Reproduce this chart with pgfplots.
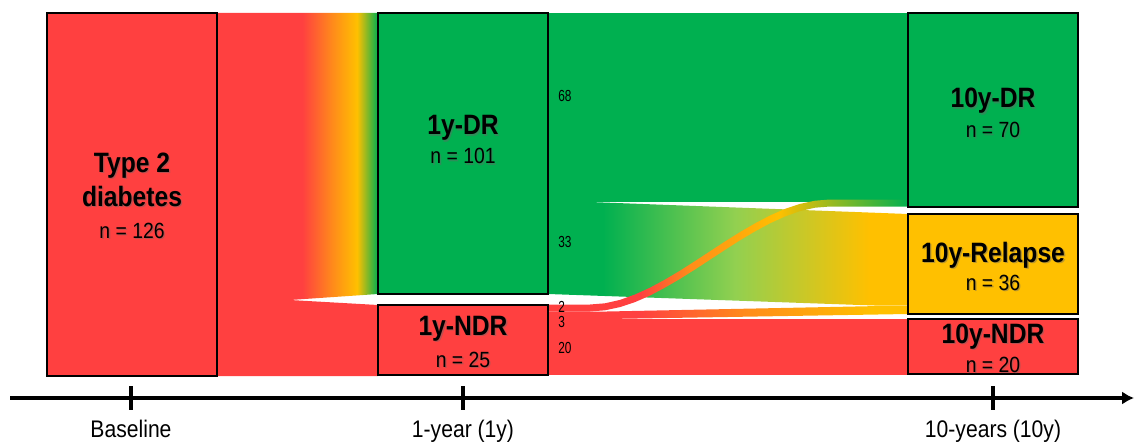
\documentclass[border=0pt]{standalone}
\usepackage{pgfplots}
\pgfplotsset{compat=1.18}
\usetikzlibrary{arrows.meta}
\usepackage{fontspec}
\setmainfont{Liberation Sans}[FakeStretch=0.88]
\newfontfamily\narrowfont{Liberation Sans}[FakeStretch=0.74]

\definecolor{dred}{HTML}{FF4040}
\definecolor{dgreen}{HTML}{00B050}
\definecolor{dyellow}{HTML}{FFC000}
\definecolor{dorange}{HTML}{FF8C1A}
\definecolor{lgreen}{HTML}{92D050}

% shadings: the stretch between 25bp and 75bp covers the path
\pgfdeclarehorizontalshading{basedr}{100bp}{color(0bp)=(dred); color(51.5bp)=(dred); color(61bp)=(dorange); color(68.5bp)=(dyellow); color(75bp)=(dgreen); color(100bp)=(dgreen)}
\pgfdeclarehorizontalshading{drrel}{100bp}{color(0bp)=(dgreen); color(32.6bp)=(dgreen); color(51bp)=(lgreen); color(69.6bp)=(dyellow); color(100bp)=(dyellow)}
\pgfdeclarehorizontalshading{ndrrel}{100bp}{color(0bp)=(dred); color(37.8bp)=(dred); color(52.5bp)=(dorange); color(70bp)=(dyellow); color(100bp)=(dyellow)}
\pgfdeclarehorizontalshading{ndrdr}{100bp}{color(0bp)=(dred); color(37.8bp)=(dred); color(44.7bp)=(dorange); color(57bp)=(dyellow); color(75bp)=(dgreen); color(100bp)=(dgreen)}

\newcommand\boxtext[4]{%
  \node[anchor=base, inner sep=0pt, text=black!60, opacity=0.45, xshift=1pt, yshift=-1pt] at (axis cs:#1,#2) {\fontsize{#3}{#3}\selectfont #4};
  \node[anchor=base, inner sep=0pt] at (axis cs:#1,#2) {\fontsize{#3}{#3}\selectfont #4};}
\newcommand\flowval[2]{%
  \node[anchor=base west, inner sep=0pt] at (axis cs:558,#1) {\narrowfont\fontsize{12}{12}\selectfont #2};}

\begin{document}
\begin{tikzpicture}
\begin{axis}[hide axis, scale only axis, width=850.5pt, height=331.5pt,
  xmin=0, xmax=1134, ymin=0, ymax=442, y dir=reverse, clip=false]

% flows baseline -> 1y
\addplot[draw=none, shade, shading=basedr] coordinates {(217,13) (378,13) (378,294) (290,300) (217,300)} -- cycle;
\addplot[draw=none, fill=dred] coordinates {(217,300) (290,300) (378,305) (378,376) (217,376)} -- cycle;

% flows 1y -> 10y
\addplot[draw=none, fill=dgreen] coordinates {(548,13) (908,13) (908,202) (548,202)} -- cycle;
\addplot[draw=none, shade, shading=drrel] coordinates {(548,202) (590,202) (908,214) (908,305.7) (880,305.7) (548,294)} -- cycle;
\addplot[draw=none, fill=dred] coordinates {(548,319) (908,319) (908,374.5) (548,374.5)} -- cycle;
\addplot[draw=none, shade, shading=ndrrel] coordinates {(548,311.5) (607,311.5) (880,306) (908,306) (908,314) (607,319) (548,319)} -- cycle;
\addplot[draw=none, shade, shading=ndrdr] coordinates {
  (548,304.5) (590,304.5) (605,303.3) (620,299.9) (635,294.5) (650,287.7) (665,279.6)
  (680,270.7) (695,261.1) (710,251.3) (725,241.5) (740,232.1) (755,223.4) (770,215.5)
  (785,208.9) (800,203.9) (815,200.7) (830,199.5) (908,199.5)
  (908,206.5) (830,206.5) (815,207.7) (800,211.1) (785,216.5) (770,223.3) (755,231.4)
  (740,240.3) (725,249.9) (710,259.7) (695,269.5) (680,278.9) (665,287.6) (650,295.6)
  (635,302.1) (620,307.1) (605,310.3) (590,311.5) (548,311.5)} -- cycle;

% boxes
\addplot[draw=black, line width=1.1pt, fill=dred] coordinates {(47,13) (217,13) (217,376) (47,376)} -- cycle;
\addplot[draw=black, line width=1.1pt, fill=dgreen] coordinates {(378,13) (548,13) (548,294) (378,294)} -- cycle;
\addplot[draw=black, line width=1.1pt, fill=dred] coordinates {(378,305) (548,305) (548,375) (378,375)} -- cycle;
\addplot[draw=black, line width=1.1pt, fill=dgreen] coordinates {(908,13) (1078,13) (1078,207) (908,207)} -- cycle;
\addplot[draw=black, line width=1.1pt, fill=dyellow] coordinates {(908,214) (1078,214) (1078,314) (908,314)} -- cycle;
\addplot[draw=black, line width=1.1pt, fill=dred] coordinates {(908,319) (1078,319) (1078,374) (908,374)} -- cycle;

% time axis
\addplot[line width=3pt, -{Latex[length=9pt,width=10pt]}] coordinates {(10,398) (1134,398)};
\addplot[line width=2.4pt] coordinates {(131,386) (131,410)};
\addplot[line width=2.4pt] coordinates {(463,386) (463,410)};
\addplot[line width=2.4pt] coordinates {(993,386) (993,410)};

% box labels
\boxtext{132}{172}{21}{\bfseries Type 2}
\boxtext{132}{206}{21}{\bfseries diabetes}
\boxtext{132}{238}{16.5}{n = 126}
\boxtext{463}{135}{21}{\bfseries 1y-DR}
\boxtext{463}{164}{16.5}{n = 101}
\boxtext{463}{335}{21}{\bfseries 1y-NDR}
\boxtext{463}{367}{16.5}{n = 25}
\boxtext{993}{108}{21}{\bfseries 10y-DR}
\boxtext{993}{138}{16.5}{n = 70}
\boxtext{993}{262}{21}{\bfseries 10y-Relapse}
\boxtext{993}{290}{16.5}{n = 36}
\boxtext{993}{343}{21}{\bfseries 10y-NDR}
\boxtext{993}{372}{16.5}{n = 20}

% flow values
\flowval{102}{68}
\flowval{247}{33}
\flowval{312}{2}
\flowval{327}{3}
\flowval{353}{20}

% time labels
\node[anchor=base, inner sep=0pt] at (axis cs:131,437) {\fontsize{18}{18}\selectfont Baseline};
\node[anchor=base, inner sep=0pt] at (axis cs:463,437) {\fontsize{18}{18}\selectfont 1-year (1y)};
\node[anchor=base, inner sep=0pt] at (axis cs:993,437) {\fontsize{18}{18}\selectfont 10-years (10y)};
\end{axis}
\pgfresetboundingbox
\path (current axis.south west) rectangle (current axis.north east);
\end{tikzpicture}
\end{document}
